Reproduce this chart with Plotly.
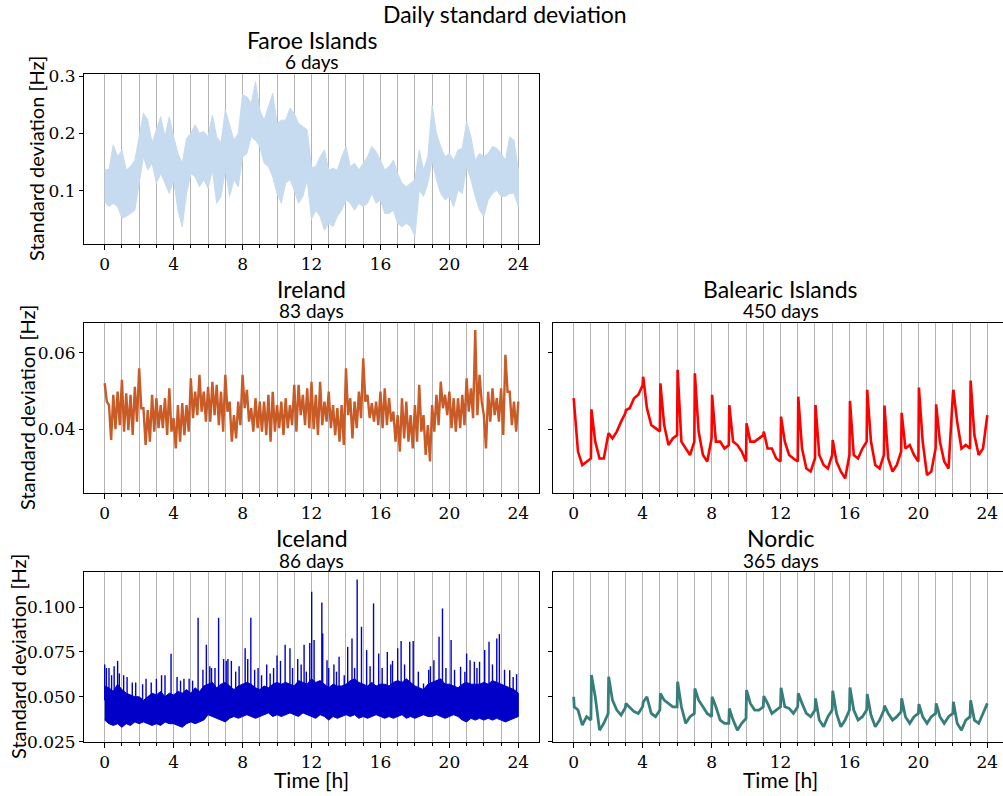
import plotly.graph_objects as go

W, H = 1003, 796

# ---------------- data ----------------
hours_q = [i * 0.25 for i in range(97)]  # quarter-hour grid 0..24

faroe_top = [0.136, 0.137, 0.180, 0.159, 0.171, 0.136, 0.142, 0.153,
             0.194, 0.235, 0.223, 0.183, 0.206, 0.229, 0.194, 0.229,
             0.194, 0.165, 0.148, 0.191, 0.200, 0.215, 0.200, 0.203,
             0.194, 0.232, 0.194, 0.183, 0.241, 0.212, 0.188, 0.200,
             0.267, 0.264, 0.252, 0.290, 0.241, 0.223, 0.247, 0.270,
             0.217, 0.223, 0.223, 0.244, 0.235, 0.217, 0.212, 0.206,
             0.140, 0.142, 0.159, 0.171, 0.136, 0.139, 0.136, 0.159,
             0.177, 0.142, 0.148, 0.136, 0.148, 0.159, 0.177, 0.168,
             0.153, 0.136, 0.142, 0.153, 0.130, 0.113, 0.107, 0.113,
             0.119, 0.171, 0.136, 0.159, 0.249, 0.200, 0.177, 0.159,
             0.165, 0.153, 0.171, 0.174, 0.220, 0.194, 0.153, 0.165,
             0.159, 0.165, 0.177, 0.174, 0.165, 0.153, 0.194, 0.188,
             0.136]
faroe_bot = [0.081, 0.072, 0.078, 0.072, 0.052, 0.055, 0.060, 0.066,
             0.113, 0.159, 0.136, 0.148, 0.113, 0.130, 0.113, 0.095,
             0.119, 0.066, 0.037, 0.095, 0.130, 0.124, 0.107, 0.119,
             0.104, 0.136, 0.078, 0.090, 0.136, 0.090, 0.119, 0.107,
             0.159, 0.165, 0.194, 0.188, 0.177, 0.148, 0.142, 0.124,
             0.095, 0.078, 0.113, 0.119, 0.101, 0.078, 0.090, 0.119,
             0.050, 0.066, 0.055, 0.031, 0.043, 0.037, 0.055, 0.066,
             0.084, 0.078, 0.066, 0.078, 0.072, 0.078, 0.095, 0.078,
             0.084, 0.060, 0.060, 0.066, 0.043, 0.037, 0.043, 0.037,
             0.020, 0.101, 0.090, 0.113, 0.153, 0.119, 0.095, 0.084,
             0.090, 0.072, 0.101, 0.095, 0.142, 0.119, 0.090, 0.066,
             0.055, 0.084, 0.095, 0.101, 0.090, 0.090, 0.095, 0.095,
             0.072]

ireland_top = [0.0520, 0.0463, 0.0490, 0.0498, 0.0529, 0.0494, 0.0490, 0.0511,
               0.0559, 0.0455, 0.0450, 0.0490, 0.0481, 0.0463, 0.0481, 0.0507,
               0.0429, 0.0463, 0.0468, 0.0463, 0.0533, 0.0498, 0.0542, 0.0498,
               0.0511, 0.0524, 0.0516, 0.0498, 0.0542, 0.0472, 0.0437, 0.0472,
               0.0542, 0.0503, 0.0455, 0.0481, 0.0472, 0.0472, 0.0490, 0.0498,
               0.0463, 0.0472, 0.0481, 0.0463, 0.0516, 0.0516, 0.0490, 0.0507,
               0.0524, 0.0490, 0.0524, 0.0472, 0.0498, 0.0463, 0.0455, 0.0463,
               0.0559, 0.0481, 0.0472, 0.0498, 0.0585, 0.0490, 0.0468, 0.0472,
               0.0498, 0.0507, 0.0481, 0.0446, 0.0437, 0.0481, 0.0472, 0.0437,
               0.0463, 0.0516, 0.0437, 0.0411, 0.0463, 0.0490, 0.0524, 0.0490,
               0.0498, 0.0481, 0.0481, 0.0490, 0.0533, 0.0507, 0.0659, 0.0542,
               0.0437, 0.0498, 0.0507, 0.0481, 0.0507, 0.0594, 0.0498, 0.0472,
               0.0472]
ireland_bot = [0.0472, 0.0372, 0.0400, 0.0411, 0.0394, 0.0398, 0.0385, 0.0420,
               0.0455, 0.0359, 0.0368, 0.0394, 0.0403, 0.0403, 0.0385, 0.0394,
               0.0350, 0.0368, 0.0385, 0.0394, 0.0429, 0.0437, 0.0446, 0.0420,
               0.0420, 0.0437, 0.0411, 0.0394, 0.0446, 0.0368, 0.0376, 0.0411,
               0.0455, 0.0420, 0.0394, 0.0403, 0.0394, 0.0385, 0.0368, 0.0394,
               0.0403, 0.0385, 0.0403, 0.0411, 0.0394, 0.0437, 0.0411, 0.0403,
               0.0400, 0.0385, 0.0411, 0.0420, 0.0403, 0.0385, 0.0368, 0.0359,
               0.0437, 0.0376, 0.0403, 0.0429, 0.0472, 0.0429, 0.0420, 0.0411,
               0.0403, 0.0411, 0.0420, 0.0368, 0.0342, 0.0376, 0.0368, 0.0350,
               0.0368, 0.0394, 0.0333, 0.0316, 0.0394, 0.0411, 0.0455, 0.0437,
               0.0403, 0.0394, 0.0403, 0.0411, 0.0446, 0.0429, 0.0437, 0.0472,
               0.0350, 0.0420, 0.0437, 0.0420, 0.0385, 0.0498, 0.0411, 0.0394,
               0.0437]

iceland_top = [0.056, 0.055, 0.053, 0.057, 0.054, 0.052, 0.051, 0.050,
               0.050, 0.048, 0.050, 0.052, 0.051, 0.053, 0.050, 0.052,
               0.051, 0.053, 0.052, 0.054, 0.052, 0.055, 0.053, 0.056,
               0.057, 0.058, 0.055, 0.057, 0.058, 0.056, 0.054, 0.056,
               0.057, 0.058, 0.057, 0.055, 0.054, 0.056, 0.055, 0.057,
               0.058, 0.057, 0.058, 0.057, 0.056, 0.059, 0.058, 0.057,
               0.060, 0.058, 0.059, 0.057, 0.055, 0.057, 0.056, 0.056,
               0.057, 0.059, 0.060, 0.058, 0.057, 0.056, 0.058, 0.056,
               0.057, 0.057, 0.056, 0.058, 0.059, 0.058, 0.060, 0.058,
               0.056, 0.055, 0.054, 0.057, 0.058, 0.059, 0.060, 0.057,
               0.057, 0.056, 0.055, 0.057, 0.058, 0.057, 0.057, 0.057,
               0.058, 0.057, 0.059, 0.058, 0.057, 0.056, 0.055, 0.054,
               0.052]
iceland_bot = [0.037, 0.035, 0.034, 0.035, 0.033, 0.035, 0.034, 0.036,
               0.035, 0.036, 0.035, 0.034, 0.035, 0.034, 0.036, 0.035,
               0.035, 0.034, 0.033, 0.035, 0.036, 0.035, 0.036, 0.037,
               0.040, 0.039, 0.038, 0.037, 0.036, 0.038, 0.039, 0.038,
               0.039, 0.040, 0.039, 0.038, 0.039, 0.040, 0.041, 0.039,
               0.040, 0.039, 0.040, 0.041, 0.040, 0.039, 0.041, 0.040,
               0.039, 0.038, 0.040, 0.039, 0.037, 0.039, 0.038, 0.039,
               0.040, 0.039, 0.040, 0.038, 0.039, 0.038, 0.039, 0.040,
               0.039, 0.038, 0.039, 0.038, 0.039, 0.040, 0.038, 0.039,
               0.038, 0.039, 0.040, 0.039, 0.039, 0.040, 0.039, 0.038,
               0.039, 0.040, 0.039, 0.037, 0.036, 0.038, 0.037, 0.038,
               0.037, 0.038, 0.037, 0.038, 0.037, 0.036, 0.037, 0.038,
               0.039]
iceland_spike_t = [0.0, 0.1, 0.25, 0.4, 0.55, 0.75, 0.85, 1.1, 1.3, 1.6, 1.8, 2.2,
                   2.4, 2.7, 3.0, 3.3, 3.5, 3.85, 4.2, 4.4, 4.6, 4.9, 5.1, 5.42,
                   5.7, 5.9, 6.1, 6.2, 6.4, 6.61, 6.9, 7.05, 7.15, 7.35, 7.6, 7.8,
                   8.15, 8.3, 8.48, 8.7, 8.9, 9.1, 9.4, 9.6, 9.8, 10.0, 10.2, 10.47,
                   10.75, 10.9, 11.2, 11.4, 11.57, 11.7, 11.9, 12.01, 12.15, 12.6,
                   12.65, 12.9, 13.0, 13.3, 13.45, 13.6, 13.9, 14.1, 14.35, 14.5,
                   14.65, 14.9, 15.2, 15.4, 15.6, 15.9, 16.1, 16.4, 16.6, 16.7,
                   17.0, 17.2, 17.4, 17.7, 17.9, 18.2, 18.5, 18.8, 18.9, 19.1,
                   19.4, 19.6, 19.8, 20.1, 20.3, 20.65, 20.9, 21.0, 21.2, 21.45,
                   21.6, 21.75, 22.05, 22.3, 22.5, 22.75, 22.9, 23.2, 23.5, 23.7,
                   23.9]
iceland_spike_v = [0.068, 0.066, 0.066, 0.062, 0.067, 0.070, 0.063, 0.062, 0.061, 0.058,
                   0.058, 0.057, 0.060, 0.058, 0.060, 0.062, 0.062, 0.074, 0.061, 0.059,
                   0.060, 0.060, 0.059, 0.094, 0.065, 0.079, 0.067, 0.066, 0.066, 0.094,
                   0.071, 0.070, 0.071, 0.070, 0.064, 0.067, 0.077, 0.071, 0.094, 0.065,
                   0.066, 0.062, 0.068, 0.063, 0.066, 0.073, 0.070, 0.079, 0.077, 0.066,
                   0.071, 0.068, 0.079, 0.064, 0.080, 0.1085, 0.0816, 0.1025, 0.0853,
                   0.0704, 0.066, 0.068, 0.064, 0.0723, 0.062, 0.0778, 0.0825, 0.066,
                   0.1153, 0.089, 0.076, 0.067, 0.102, 0.0741, 0.066, 0.075, 0.068,
                   0.070, 0.077, 0.081, 0.068, 0.0806, 0.081, 0.064, 0.0574, 0.065,
                   0.067, 0.0704, 0.0834, 0.0992, 0.066, 0.0816, 0.065, 0.0667, 0.064,
                   0.0741, 0.0704, 0.0695, 0.066, 0.0695, 0.076, 0.0806, 0.068, 0.0825,
                   0.0849, 0.065, 0.0648, 0.061, 0.0626]

# per hour: value at the hour, right after the hour, +15, +30, +45 min
hour_offsets = [0.0, 0.03, 0.25, 0.5, 0.75]
balearic_v = [0.0481, 0.0465, 0.0342, 0.0307, 0.0316,
              0.0324, 0.0452, 0.0368, 0.0324, 0.0324,
              0.0385, 0.0390, 0.0376, 0.0394, 0.0420,
              0.0442, 0.0450, 0.0455, 0.0481, 0.0490,
              0.0515, 0.0537, 0.0455, 0.0411, 0.0403,
              0.0394, 0.0520, 0.0411, 0.0359, 0.0376,
              0.0385, 0.0555, 0.0368, 0.0350, 0.0333,
              0.0368, 0.0546, 0.0394, 0.0333, 0.0316,
              0.0376, 0.0490, 0.0368, 0.0368, 0.0350,
              0.0359, 0.0463, 0.0368, 0.0359, 0.0342,
              0.0316, 0.0416, 0.0368, 0.0368, 0.0376,
              0.0385, 0.0394, 0.0350, 0.0350, 0.0324,
              0.0316, 0.0433, 0.0368, 0.0333, 0.0324,
              0.0316, 0.0485, 0.0350, 0.0298, 0.0290,
              0.0324, 0.0463, 0.0333, 0.0307, 0.0298,
              0.0333, 0.0372, 0.0316, 0.0290, 0.0272,
              0.0333, 0.0474, 0.0333, 0.0324, 0.0350,
              0.0368, 0.0503, 0.0368, 0.0307, 0.0298,
              0.0333, 0.0462, 0.0324, 0.0290, 0.0307,
              0.0342, 0.0443, 0.0350, 0.0359, 0.0333,
              0.0316, 0.0509, 0.0368, 0.0281, 0.0290,
              0.0350, 0.0465, 0.0368, 0.0316, 0.0298,
              0.0490, 0.0503, 0.0420, 0.0350, 0.0359,
              0.0350, 0.0527, 0.0385, 0.0333, 0.0350,
              0.0437]
nordic_v = [0.0500, 0.0444, 0.0426, 0.0342, 0.0389,
            0.0370, 0.0621, 0.0500, 0.0314, 0.0352,
            0.0407, 0.0611, 0.0481, 0.0426, 0.0398,
            0.0440, 0.0463, 0.0444, 0.0417, 0.0407,
            0.0444, 0.0470, 0.0500, 0.0407, 0.0389,
            0.0426, 0.0519, 0.0481, 0.0463, 0.0444,
            0.0444, 0.0584, 0.0444, 0.0352, 0.0389,
            0.0407, 0.0546, 0.0481, 0.0444, 0.0407,
            0.0389, 0.0500, 0.0444, 0.0370, 0.0352,
            0.0352, 0.0435, 0.0370, 0.0314, 0.0352,
            0.0379, 0.0537, 0.0463, 0.0426, 0.0426,
            0.0444, 0.0504, 0.0463, 0.0407, 0.0426,
            0.0444, 0.0550, 0.0444, 0.0435, 0.0407,
            0.0444, 0.0519, 0.0463, 0.0407, 0.0389,
            0.0426, 0.0491, 0.0370, 0.0333, 0.0389,
            0.0426, 0.0533, 0.0407, 0.0333, 0.0370,
            0.0426, 0.0552, 0.0426, 0.0370, 0.0389,
            0.0426, 0.0515, 0.0398, 0.0333, 0.0370,
            0.0426, 0.0450, 0.0407, 0.0370, 0.0389,
            0.0417, 0.0491, 0.0389, 0.0352, 0.0389,
            0.0407, 0.0459, 0.0389, 0.0352, 0.0389,
            0.0407, 0.0463, 0.0389, 0.0352, 0.0389,
            0.0407, 0.0472, 0.0352, 0.0314, 0.0370,
            0.0389, 0.0481, 0.0370, 0.0352, 0.0407,
            0.0463]

titles = ["Faroe Islands", "Ireland", "Balearic Islands", "Iceland", "Nordic"]
days = ["6 days", "83 days", "450 days", "86 days", "365 days"]
colors = ["#c6dbef", "#c95b27", "#ff0000", "#0000c8", "#377e7b"]
x_ticks = [0, 4, 8, 12, 16, 20, 24]
y_ticks_row1 = [0.1, 0.2, 0.3]
y_ticks_row2 = [0.04, 0.06]
y_ticks_row3 = [0.025, 0.05, 0.075, 0.1]
y_text_row3 = ["0.025", "0.050", "0.075", "0.100"]

# ---------------- derived ----------------
hour_t = [h + o for h in range(24) for o in hour_offsets] + [24.0]
assert len(hour_t) == len(balearic_v) == len(nordic_v)
assert len(iceland_spike_t) == len(iceland_spike_v)

# ---------------- layout geometry (pixels) ----------------
def px_x(a, b):
    return [a / W, min(b / W, 1.0)]

def px_y(top, bot):
    return [1 - bot / H, 1 - top / H]

LX = (84, 539)
RX = (553, 1003)
ROWS = [(74, 244), (323, 493), (572, 742)]
XR_LEFT = [-1.2, 25.2]
pxu = (LX[1] - LX[0]) / (XR_LEFT[1] - XR_LEFT[0])
XR_RIGHT = [-1.2, -1.2 + (RX[1] - RX[0]) / pxu]

fig = go.Figure()

# Faroe band
fig.add_trace(go.Scatter(x=hours_q + hours_q[::-1], y=faroe_top + faroe_bot[::-1],
                         fill="toself", fillcolor=colors[0], mode="lines",
                         line=dict(color=colors[0], width=1), xaxis="x", yaxis="y",
                         hoverinfo="skip"))

# Ireland jagged line
irl_x, irl_y = [], []
for i, t in enumerate(hours_q):
    irl_x.append(t)
    irl_y.append(ireland_top[i])
    if i < len(hours_q) - 1:
        irl_x.append(t + 0.125)
        irl_y.append(ireland_bot[i])
fig.add_trace(go.Scatter(x=irl_x, y=irl_y, mode="lines",
                         line=dict(color=colors[1], width=2.4), xaxis="x2", yaxis="y2"))

# Balearic
fig.add_trace(go.Scatter(x=hour_t, y=balearic_v, mode="lines",
                         line=dict(color=colors[2], width=2.6), xaxis="x3", yaxis="y3"))

# Iceland band + spikes
fig.add_trace(go.Scatter(x=hours_q + hours_q[::-1], y=iceland_top + iceland_bot[::-1],
                         fill="toself", fillcolor=colors[3], mode="lines",
                         line=dict(color=colors[3], width=1), xaxis="x4", yaxis="y4"))
sx, sy = [], []
for t, v in zip(iceland_spike_t, iceland_spike_v):
    sx += [t, t, None]
    sy += [0.048, v, None]
fig.add_trace(go.Scatter(x=sx, y=sy, mode="lines", line=dict(color=colors[3], width=1.4),
                         xaxis="x4", yaxis="y4"))

# Nordic
fig.add_trace(go.Scatter(x=hour_t, y=nordic_v, mode="lines",
                         line=dict(color=colors[4], width=2.8), xaxis="x5", yaxis="y5"))

TICKFONT = dict(family="DejaVu Serif", size=17, color="#000")
GRID = "#b4b4b4"

def xaxis(dom, rng, anchor, showlabels=True):
    return dict(domain=dom, range=rng, anchor=anchor, tickmode="array", tickvals=x_ticks,
                ticktext=[str(v) for v in x_ticks], showticklabels=showlabels,
                ticks="outside", ticklen=5, tickwidth=1, tickcolor="#000",
                showgrid=True, gridcolor=GRID, gridwidth=1,
                minor=dict(tickmode="array", tickvals=list(range(25)), ticks="outside",
                           ticklen=3, tickwidth=1, tickcolor="#000", showgrid=True,
                           gridcolor=GRID, gridwidth=1),
                showline=True, linecolor="#000", linewidth=1, mirror=True,
                zeroline=False, tickfont=TICKFONT, fixedrange=True, automargin=False)

def yaxis(dom, rng, anchor, vals, texts=None, labels=True, mirror=True, matches=None):
    d = dict(domain=dom, range=rng, anchor=anchor, tickmode="array", tickvals=vals,
             ticktext=texts if texts else [("%g" % v) for v in vals],
             showticklabels=labels, ticks="outside", ticklen=4, tickwidth=1,
             tickcolor="#000", showgrid=False, zeroline=False, showline=True,
             linecolor="#000", linewidth=1, mirror=mirror, tickfont=TICKFONT,
             automargin=False)
    if matches:
        d["matches"] = matches
    return d

R1, R2, R3 = [0.007, 0.3035], [0.0234, 0.0677], [0.0248, 0.1195]

layout = dict(
    width=W, height=H, margin=dict(l=0, r=0, t=0, b=0, pad=0, autoexpand=False),
    paper_bgcolor="white", plot_bgcolor="white", showlegend=False,
    xaxis=xaxis(px_x(*LX), XR_LEFT, "y"),
    yaxis=yaxis(px_y(*ROWS[0]), R1, "x", y_ticks_row1),
    xaxis2=xaxis(px_x(*LX), XR_LEFT, "y2"),
    yaxis2=yaxis(px_y(*ROWS[1]), R2, "x2", y_ticks_row2),
    xaxis3=xaxis(px_x(*RX), XR_RIGHT, "y3"),
    yaxis3=yaxis(px_y(*ROWS[1]), R2, "x3", y_ticks_row2, labels=False, mirror=False),
    xaxis4=xaxis(px_x(*LX), XR_LEFT, "y4"),
    yaxis4=yaxis(px_y(*ROWS[2]), R3, "x4", y_ticks_row3, y_text_row3),
    xaxis5=xaxis(px_x(*RX), XR_RIGHT, "y5"),
    yaxis5=yaxis(px_y(*ROWS[2]), R3, "x5", y_ticks_row3, y_text_row3, labels=False, mirror=False),
)
fig.update_layout(**layout)

SANS = "Lato"
ann = []
def add_text(x, y, text, size, angle=0):
    ann.append(dict(x=x / W, y=1 - y / H, xref="paper", yref="paper", text=text,
                    showarrow=False, xanchor="center", yanchor="middle", textangle=angle,
                    font=dict(family=SANS, size=size, color="#000")))

lc = (LX[0] + LX[1]) / 2
rc = (RX[0] + 1008) / 2
add_text(505, 14, "Daily standard deviation", 23)
centers = [(lc, 0), (lc, 1), (rc, 1), (lc, 2), (rc, 2)]
for (cx, r), t, d in zip(centers, titles, days):
    top = ROWS[r][0]
    add_text(cx, top - 34, t, 23)
    add_text(cx, top - 12, d, 19)
add_text(36, (ROWS[0][0] + ROWS[0][1]) / 2, "Standard deviation [Hz]", 20, -90)
add_text(27, (ROWS[1][0] + ROWS[1][1]) / 2, "Standard deviation [Hz]", 20, -90)
add_text(18, (ROWS[2][0] + ROWS[2][1]) / 2, "Standard deviation [Hz]", 20, -90)
add_text(lc, 779, "Time [h]", 21)
add_text(rc, 779, "Time [h]", 21)
fig.update_layout(annotations=ann)

fig.write_html("out.html", config={"responsive": False})
